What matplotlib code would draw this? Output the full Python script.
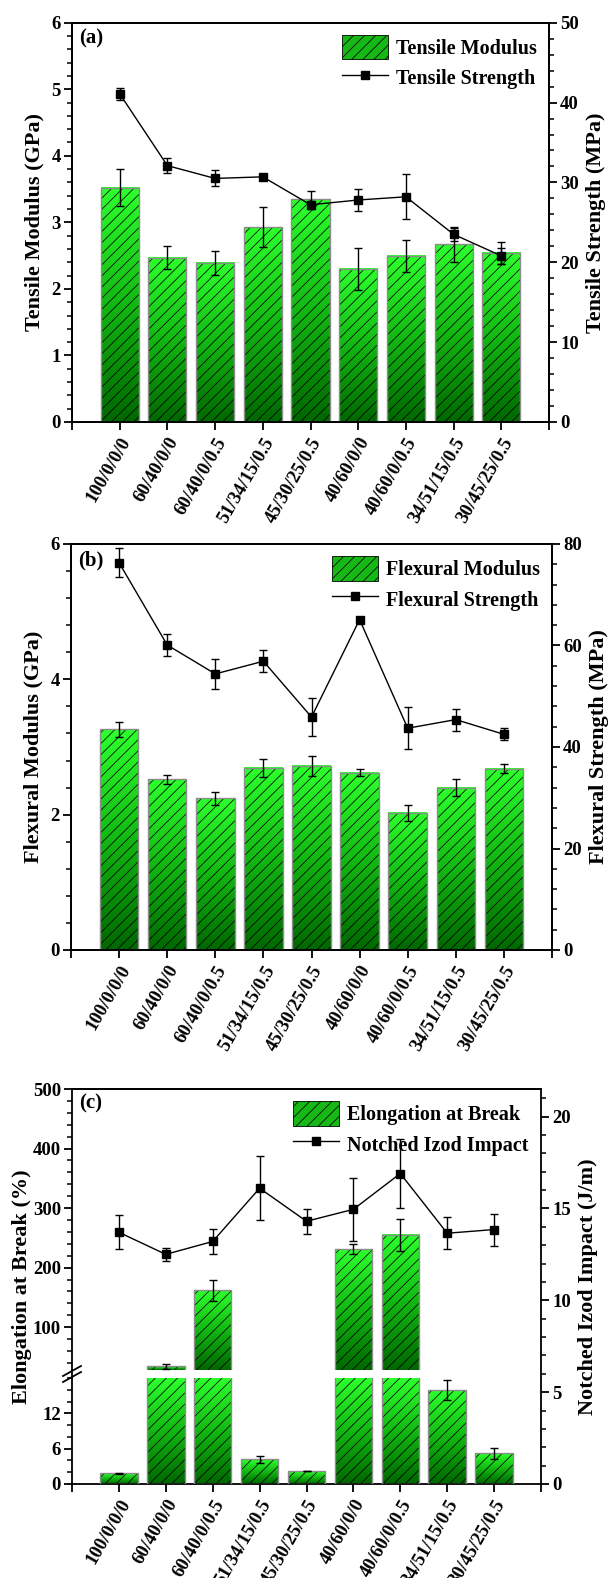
import numpy as np
import matplotlib
matplotlib.use('Agg')
import matplotlib.pyplot as plt
from matplotlib.colors import LinearSegmentedColormap
from matplotlib.patches import Patch
from matplotlib.lines import Line2D
from matplotlib.ticker import MultipleLocator, FixedLocator

# sample compositions
samples = ['100/0/0/0', '60/40/0/0', '60/40/0/0.5', '51/34/15/0.5', '45/30/25/0.5',
           '40/60/0/0', '40/60/0/0.5', '34/51/15/0.5', '30/45/25/0.5']

# (a) tensile
tens_mod = [3.52, 2.47, 2.39, 2.93, 3.35, 2.30, 2.50, 2.67, 2.54]
tens_mod_err = [0.28, 0.17, 0.18, 0.30, 0.12, 0.31, 0.24, 0.26, 0.17]
tens_str = [41.1, 32.1, 30.5, 30.7, 27.2, 27.8, 28.2, 23.5, 20.8]
tens_str_err = [0.75, 0.95, 1.0, 0.2, 0.5, 1.35, 2.8, 0.8, 1.0]

# (b) flexural
flex_mod = [3.26, 2.52, 2.24, 2.69, 2.72, 2.62, 2.03, 2.40, 2.68]
flex_mod_err = [0.11, 0.06, 0.09, 0.14, 0.15, 0.05, 0.12, 0.13, 0.07]
flex_str = [76.3, 60.1, 54.4, 56.9, 45.9, 65.1, 43.7, 45.4, 42.5]
flex_str_err = [2.85, 2.2, 2.9, 2.2, 3.8, 0.3, 4.1, 2.15, 1.2]

# (c) elongation / izod
elong = [1.8, 34, 162, 4.2, 2.2, 231, 255, 15.9, 5.2]
elong_err = [0.1, 4, 18, 0.6, 0.05, 8, 27, 1.7, 0.95]
izod = [13.7, 12.5, 13.2, 16.1, 14.3, 14.95, 16.9, 13.65, 13.85]
izod_err = [0.93, 0.37, 0.66, 1.74, 0.68, 1.72, 1.9, 0.86, 0.87]

plt.rcParams['font.family'] = ['Liberation Serif', 'DejaVu Serif']
plt.rcParams['font.weight'] = 'bold'
plt.rcParams['axes.labelweight'] = 'bold'
plt.rcParams['hatch.linewidth'] = 0.55
plt.rcParams['axes.linewidth'] = 1.3

TICK_FS = 13.5
LAB_FS = 16
LEG_FS = 14.5

W, H = 610, 1578
fig = plt.figure(figsize=(W / 100, H / 100), dpi=100)

green = LinearSegmentedColormap.from_list('g', ['#006800', '#12b812', '#2cff2c'])
grad = np.linspace(0, 1, 64).reshape(-1, 1)
xpos = np.arange(1, len(samples) + 1)
BW = 0.8


def box(l, r, t, b):
    return [l / W, 1 - b / H, (r - l) / W, (b - t) / H]


def gbars(ax, vals, lo, hi):
    for xi, v in zip(xpos, vals):
        top = min(v, hi)
        if top <= lo:
            continue
        ax.imshow(grad, extent=(xi - BW / 2, xi + BW / 2, lo, top), cmap=green,
                  aspect='auto', origin='lower', zorder=1, interpolation='bilinear')
    ax.bar(xpos, vals, BW, fill=False, hatch='///', edgecolor='k', lw=0, zorder=2)
    ax.bar(xpos, vals, BW, fill=False, edgecolor='#8c8c8c', lw=1.0, zorder=3)


def yticks(ax, major, minor):
    if np.iterable(major):
        ax.yaxis.set_major_locator(FixedLocator(major))
    else:
        ax.yaxis.set_major_locator(MultipleLocator(major))
    ax.yaxis.set_minor_locator(MultipleLocator(minor))
    ax.tick_params(axis='y', which='major', direction='out', length=6, width=1.3,
                   labelsize=TICK_FS, pad=2)
    ax.tick_params(axis='y', which='minor', direction='out', length=3.5, width=1.1)


def xticks(ax):
    ax.set_xlim(0, 10)
    ax.set_xticks(np.arange(0, 11))
    ax.set_xticklabels([''] + samples + [''], rotation=60, ha='right',
                       rotation_mode='anchor', fontsize=TICK_FS)
    ax.tick_params(axis='x', direction='out', length=6, width=1.3, pad=3)


def legend(ax, l1, l2):
    h1 = Patch(facecolor='#16b816', edgecolor='k', lw=0.6, hatch='///')
    h2 = Line2D([], [], color='k', lw=1, marker='s', ms=6)
    ax.legend([h1, h2], [l1, l2], loc='upper right', frameon=False, fontsize=LEG_FS,
              handlelength=2.3, handleheight=1.5, borderaxespad=0.2,
              labelspacing=0.3, handletextpad=0.4)


def panel(rect, mod, mod_err, st, st_err, ymax, ymaj, ymin, rmax, rmaj, rmin,
          ylab, rlab, l1, l2, tag):
    ax = fig.add_axes(rect)
    gbars(ax, mod, 0, ymax)
    ax.errorbar(xpos, mod, yerr=mod_err, fmt='none', ecolor='k', elinewidth=1,
                capsize=3, capthick=1, zorder=4)
    ax.set_ylim(0, ymax)
    xticks(ax)
    yticks(ax, ymaj, ymin)
    ax.set_ylabel(ylab, fontsize=LAB_FS, labelpad=5)
    ax.text(0.015, 0.985, tag, transform=ax.transAxes, fontsize=15, va='top')
    ax2 = ax.twinx()
    ax2.errorbar(xpos, st, yerr=st_err, color='k', lw=1, marker='s', ms=6,
                 elinewidth=1, capsize=3, capthick=1)
    ax2.set_ylim(0, rmax)
    yticks(ax2, rmaj, rmin)
    ax2.set_ylabel(rlab, fontsize=LAB_FS, labelpad=5)
    for s in ax2.spines.values():
        s.set_linewidth(1.3)
    legend(ax2, l1, l2)
    return ax, ax2


panel(box(72, 549, 22.7, 422), tens_mod, tens_mod_err, tens_str, tens_str_err,
      6, 1, 0.2, 50, 10, 2, 'Tensile Modulus (GPa)', 'Tensile Strength (MPa)',
      'Tensile Modulus', 'Tensile Strength', '(a)')

panel(box(71, 552, 544, 950), flex_mod, flex_mod_err, flex_str, flex_str_err,
      6, 2, 0.4, 80, 20, 4, 'Flexural Modulus (GPa)', 'Flexural Strength (MPa)',
      'Flexural Modulus', 'Flexural Strength', '(b)')

# (c) broken left axis
LO_TOP, HI_BOT = 18, 28
L, R, T, B = 72, 541, 1089, 1484
Y_LO, Y_HI = 1378, 1370
ax_lo = fig.add_axes(box(L, R, Y_LO, B))
ax_hi = fig.add_axes(box(L, R, T, Y_HI))
ax_r = fig.add_axes(box(L, R, T, B))

gbars(ax_lo, elong, 0, LO_TOP)
gbars(ax_hi, elong, HI_BOT, 500)
for ax in (ax_lo, ax_hi):
    ax.errorbar(xpos, elong, yerr=elong_err, fmt='none', ecolor='k', elinewidth=1,
                capsize=3, capthick=1, zorder=4)
ax_lo.set_ylim(0, LO_TOP)
ax_hi.set_ylim(HI_BOT, 500)
xticks(ax_lo)
ax_hi.set_xlim(0, 10)
ax_hi.set_xticks([])
yticks(ax_lo, [0, 6, 12], 2)
yticks(ax_hi, 100, 20)
ax_lo.spines['top'].set_visible(False)
ax_lo.spines['right'].set_visible(False)
ax_hi.spines['bottom'].set_visible(False)
ax_hi.spines['right'].set_visible(False)
ax_hi.text(0.015, 0.985, '(c)', transform=ax_hi.transAxes, fontsize=15, va='top')

ax_r.patch.set_visible(False)
ax_r.errorbar(xpos, izod, yerr=izod_err, color='k', lw=1, marker='s', ms=6,
              elinewidth=1, capsize=3, capthick=1)
ax_r.set_xlim(0, 10)
ax_r.set_xticks([])
ax_r.set_ylim(0, 21.5)
ax_r.yaxis.tick_right()
ax_r.yaxis.set_label_position('right')
yticks(ax_r, 5, 1)
ax_r.spines['left'].set_visible(False)
ax_r.spines['bottom'].set_visible(False)
ax_r.set_ylabel('Notched Izod Impact (J/m)', fontsize=LAB_FS, labelpad=5)
legend(ax_r, 'Elongation at Break', 'Notched Izod Impact')
fig.text(22 / W, 1 - (T + B) / 2 / H, 'Elongation at Break (%)', rotation=90,
         fontsize=LAB_FS, ha='center', va='center')

# left spine across the gap and break marks
fig.add_artist(Line2D([L / W, L / W], [1 - Y_LO / H, 1 - Y_HI / H], color='k', lw=1.3))
for dy in (-3, 3):
    yc = (Y_LO + Y_HI) / 2 + dy
    fig.add_artist(Line2D([(L - 9) / W, (L + 9) / W], [1 - (yc + 5) / H, 1 - (yc - 5) / H],
                          color='k', lw=1.3))

fig.savefig('out.png', dpi=100)
